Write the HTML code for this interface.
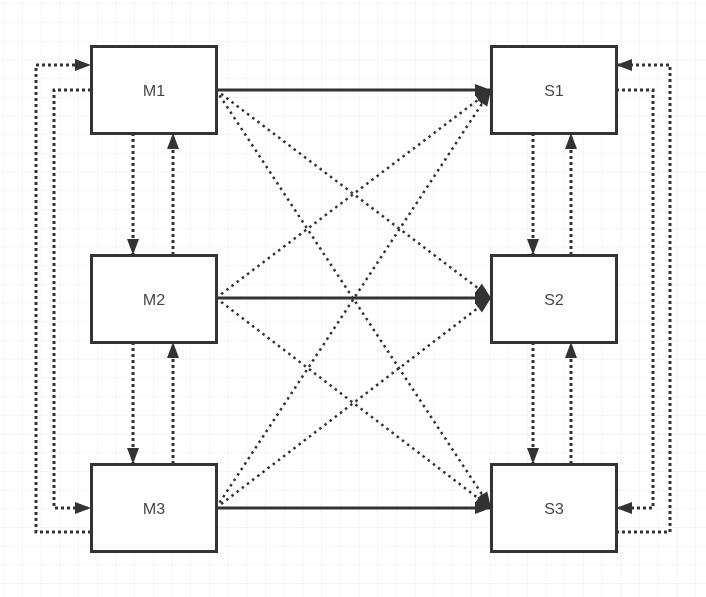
<!DOCTYPE html>
<html><head><style>
html,body{margin:0;padding:0;background:#fff;}
svg{display:block;}
text{font-family:"Liberation Sans",sans-serif;font-size:16px;fill:#444;}
</style></head><body>
<svg width="706" height="597" viewBox="0 0 706 597" xmlns="http://www.w3.org/2000/svg">
<defs>
<pattern id="g" width="18.7" height="18.7" patternUnits="userSpaceOnUse" x="4" y="4">
<path d="M18.7 0V18.7H0" fill="none" stroke="#ececec" stroke-width="1"/>
</pattern>
<marker id="b" viewBox="0 0 16 12" refX="16" refY="6" markerWidth="16" markerHeight="12" markerUnits="userSpaceOnUse" orient="auto">
<path d="M0,0L16,6L0,12z" fill="#333"/>
</marker>
</defs>
<rect width="706" height="597" fill="url(#g)"/>
<g fill="none" stroke="#333" stroke-width="3" stroke-dasharray="3,3">
<path d="M91,532H36V65H91" marker-end="url(#b)"/>
<path d="M91,90H54V508H91" marker-end="url(#b)"/>
<path d="M616,532H670V65H616" marker-end="url(#b)"/>
<path d="M616,90H653V508H616" marker-end="url(#b)"/>
<path d="M133,133V255" marker-end="url(#b)"/>
<path d="M173,255V133" marker-end="url(#b)"/>
<path d="M133,342V464" marker-end="url(#b)"/>
<path d="M173,464V342" marker-end="url(#b)"/>
<path d="M533,133V255" marker-end="url(#b)"/>
<path d="M571,255V133" marker-end="url(#b)"/>
<path d="M533,342V464" marker-end="url(#b)"/>
<path d="M571,464V342" marker-end="url(#b)"/>
</g>
<g fill="none" stroke="#333" stroke-width="2.5" stroke-dasharray="2.5,4">
<path d="M216,90L491,298" marker-end="url(#b)"/>
<path d="M216,90L491,508" marker-end="url(#b)"/>
<path d="M216,298L491,90" marker-end="url(#b)"/>
<path d="M216,298L491,508" marker-end="url(#b)"/>
<path d="M216,508L491,90" marker-end="url(#b)"/>
<path d="M216,508L491,298" marker-end="url(#b)"/>
</g>
<g fill="none" stroke="#333" stroke-width="3">
<path d="M216,90H491" marker-end="url(#b)"/>
<path d="M216,298H491" marker-end="url(#b)"/>
<path d="M216,508H491" marker-end="url(#b)"/>
</g>
<g fill="#fff" stroke="#333" stroke-width="3">
<rect x="91.5" y="46.5" width="125" height="87"/>
<rect x="91.5" y="255.5" width="125" height="87"/>
<rect x="91.5" y="464.5" width="125" height="87"/>
<rect x="491.5" y="46.5" width="125" height="87"/>
<rect x="491.5" y="255.5" width="125" height="87"/>
<rect x="491.5" y="464.5" width="125" height="87"/>
</g>
<g text-anchor="middle">
<text x="154" y="96">M1</text>
<text x="154" y="305">M2</text>
<text x="154" y="514">M3</text>
<text x="554" y="96">S1</text>
<text x="554" y="305">S2</text>
<text x="554" y="514">S3</text>
</g>
</svg>
</body></html>
